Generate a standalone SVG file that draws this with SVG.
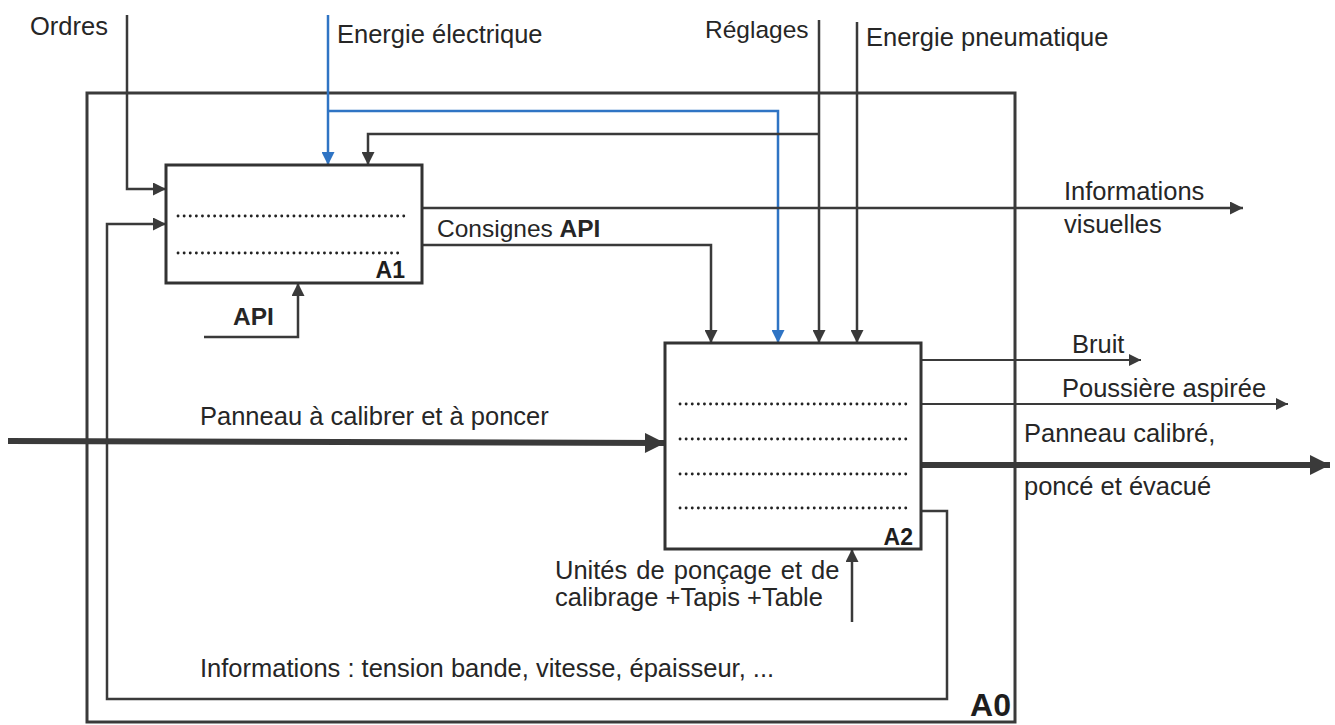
<svg xmlns="http://www.w3.org/2000/svg" width="1335" height="725" viewBox="0 0 1335 725">
<style>
.ln{fill:none;stroke:#3a3a3a;stroke-width:2.5}
.blue{fill:none;stroke:#2f74c4;stroke-width:2.5}
.thin{fill:none;stroke:#3a3a3a;stroke-width:1.8}
.thick{fill:none;stroke:#3a3a3a;stroke-width:6}
.box{fill:#fff;stroke:#333;stroke-width:3}
.frame{fill:none;stroke:#3a3a3a;stroke-width:3}
.dots{fill:none;stroke:#222;stroke-width:2.8;stroke-linecap:round;stroke-dasharray:0.1 6}
text{font-family:"Liberation Sans",Arial,sans-serif;font-size:25.5px;fill:#262626}
.sm{font-size:24.5px}
.b{font-weight:bold}
.tag{font-weight:bold;font-size:23px;text-anchor:end;fill:#1e1e1e}
</style>
<defs>
<marker id="ah" viewBox="0 0 10 10" refX="10" refY="5" markerUnits="userSpaceOnUse" markerWidth="14" markerHeight="13" orient="auto"><path d="M0,0 L10,5 L0,10 z" fill="#3a3a3a"/></marker>
<marker id="ahb" viewBox="0 0 10 10" refX="10" refY="5" markerUnits="userSpaceOnUse" markerWidth="14" markerHeight="13" orient="auto"><path d="M0,0 L10,5 L0,10 z" fill="#2f74c4"/></marker>
<marker id="ahs" viewBox="0 0 10 10" refX="10" refY="5" markerUnits="userSpaceOnUse" markerWidth="20" markerHeight="12" orient="auto"><path d="M0,0 L10,5 L0,10 z" fill="#3a3a3a"/></marker>
<marker id="aht" viewBox="0 0 10 10" refX="10" refY="5" markerUnits="userSpaceOnUse" markerWidth="24" markerHeight="20" orient="auto"><path d="M0,0 L10,5 L0,10 z" fill="#3a3a3a"/></marker>
</defs>
<rect width="1335" height="725" fill="#fff"/>

<g id="A0">
<rect class="frame" x="87" y="93" width="928" height="629"/>
<text class="tag" x="1011" y="716" style="font-size:32px">A0</text>
</g>

<g id="connectors">
<path class="ln" d="M127,15 V189 H166" marker-end="url(#ah)"/>
<path class="blue" d="M328,15 V165" marker-end="url(#ahb)"/>
<path class="blue" d="M328,111 H778 V343" marker-end="url(#ahb)"/>
<path class="ln" d="M819,20 V343" marker-end="url(#ah)"/>
<path class="ln" d="M819,134 H368 V165" marker-end="url(#ah)"/>
<path class="ln" d="M857,22 V343" marker-end="url(#ah)"/>
<path class="ln" d="M422,208 H1243" marker-end="url(#ah)"/>
<path class="ln" d="M422,245 H711 V343" marker-end="url(#ah)"/>
<path class="ln" d="M204,337 H298 V283" marker-end="url(#ah)"/>
<path class="thick" d="M8,441 L665,443" marker-end="url(#aht)"/>
<path class="thin" d="M921,360 H1141" marker-end="url(#ahs)"/>
<path class="thin" d="M921,404 H1288" marker-end="url(#ahs)"/>
<path class="thick" d="M921,465 H1330" marker-end="url(#aht)"/>
<path class="ln" d="M921,511 H947 V699 H107 V224 H166" marker-end="url(#ah)"/>
<path class="ln" d="M852,622 V549" marker-end="url(#ah)"/>
</g>

<g id="A1">
<rect class="box" x="166" y="165" width="256" height="118"/>
<path class="dots" d="M178,216 H406 M178,253 H400"/>
<text class="tag" x="405" y="278">A1</text>
</g>

<g id="A2">
<rect class="box" x="665" y="343" width="256" height="206"/>
<path class="dots" d="M680,404 H907 M680,439 H907 M680,474 H907 M680,508 H907"/>
<text class="tag" x="913" y="545">A2</text>
</g>

<g id="labels">
<text x="30" y="35">Ordres</text>
<text x="337" y="43">Energie électrique</text>
<text class="sm" x="705" y="38">Réglages</text>
<text x="866" y="46">Energie pneumatique</text>
<text x="1064" y="200">Informations</text>
<text x="1064" y="233">visuelles</text>
<text class="sm" x="437" y="237">Consignes <tspan class="b">API</tspan></text>
<text class="b sm" x="233" y="325">API</text>
<text x="200" y="425">Panneau à calibrer et à poncer</text>
<text x="1072" y="353">Bruit</text>
<text x="1062" y="397">Poussière aspirée</text>
<text x="1024" y="442">Panneau calibré,</text>
<text x="1024" y="495">poncé et évacué</text>
<text x="555" y="579" word-spacing="2">Unités de ponçage et de</text>
<text x="555" y="606">calibrage +Tapis +Table</text>
<text x="200" y="677">Informations : tension bande, vitesse, épaisseur, ...</text>
</g>
</svg>
